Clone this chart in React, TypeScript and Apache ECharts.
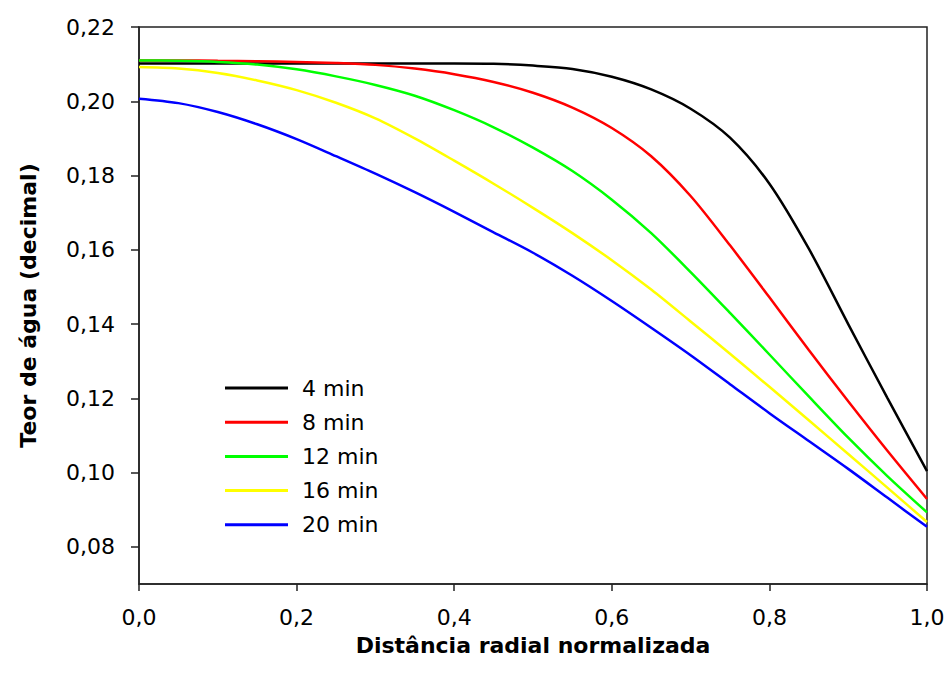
import React, { useEffect, useRef } from "react";
import * as echarts from "echarts";

const xValues = [0, 0.05, 0.1, 0.15, 0.2, 0.25, 0.3, 0.35, 0.4, 0.45, 0.5, 0.55, 0.6, 0.65, 0.7, 0.75, 0.8, 0.85, 0.9, 0.95, 1.0];

const seriesNames = ["4 min", "8 min", "12 min", "16 min", "20 min"];
const seriesColors = ["#000000", "#ff0000", "#00ff00", "#ffff00", "#0000ff"];

const min4 = [0.2102, 0.2102, 0.2102, 0.2102, 0.2102, 0.2102, 0.2102, 0.2102, 0.2102, 0.2101, 0.2096, 0.2087, 0.2066, 0.2032, 0.1980, 0.1902, 0.1778, 0.1603, 0.1400, 0.1200, 0.1004];
const min8 = [0.2110, 0.2110, 0.2109, 0.2108, 0.2106, 0.2103, 0.2098, 0.2088, 0.2073, 0.2052, 0.2023, 0.1983, 0.1928, 0.1852, 0.1745, 0.1612, 0.1472, 0.1330, 0.1192, 0.1058, 0.0929];
const min12 = [0.2110, 0.2109, 0.2106, 0.2099, 0.2086, 0.2067, 0.2044, 0.2015, 0.1976, 0.1930, 0.1875, 0.1812, 0.1735, 0.1645, 0.1540, 0.1430, 0.1318, 0.1205, 0.1094, 0.0990, 0.0893];
const min16 = [0.2092, 0.2088, 0.2076, 0.2056, 0.2030, 0.1996, 0.1954, 0.1900, 0.1840, 0.1778, 0.1713, 0.1645, 0.1572, 0.1493, 0.1407, 0.1320, 0.1231, 0.1141, 0.1050, 0.0959, 0.0867];
const min20 = [0.2007, 0.1995, 0.1971, 0.1938, 0.1898, 0.1852, 0.1805, 0.1755, 0.1702, 0.1647, 0.1592, 0.1530, 0.1462, 0.1390, 0.1316, 0.1238, 0.1160, 0.1085, 0.1010, 0.0932, 0.0854];

const allSeries = [min4, min8, min12, min16, min20];

const yTicks = [0.08, 0.1, 0.12, 0.14, 0.16, 0.18, 0.2, 0.22];
const xTicks = [0, 0.2, 0.4, 0.6, 0.8, 1.0];

const FONT = "DejaVu Sans";

export default function App() {
  const ref = useRef<HTMLDivElement>(null);
  useEffect(() => {
    if (!ref.current) return;
    const chart = echarts.init(ref.current, undefined, { renderer: "svg" });
    const axisColor = "#222";
    chart.setOption({
      animation: false,
      backgroundColor: "#ffffff",
      grid: {
        left: 139,
        top: 27,
        right: 23,
        bottom: 103,
        show: true,
        borderColor: axisColor,
        borderWidth: 1.5,
        backgroundColor: "transparent",
      },
      legend: {
        orient: "vertical",
        left: 225,
        top: 377,
        padding: 0,
        icon: "rect",
        itemWidth: 63,
        itemHeight: 3,
        itemGap: 12.2,
        data: seriesNames,
        textStyle: { fontFamily: FONT, fontSize: 22, color: "#000", padding: [0, 0, 0, 9] },
      },
      xAxis: {
        type: "value",
        min: 0,
        max: 1,
        interval: 0.2,
        name: "Distância radial normalizada",
        nameLocation: "middle",
        nameGap: 50,
        nameTextStyle: { fontFamily: FONT, fontSize: 22, fontWeight: "bold", color: "#000" },
        axisLine: { show: true, lineStyle: { color: axisColor, width: 1.5 } },
        axisTick: { show: true, length: 7, lineStyle: { color: axisColor, width: 1.5 }, customValues: xTicks },
        axisLabel: {
          fontFamily: FONT,
          fontSize: 22,
          color: "#000",
          margin: 22,
          customValues: xTicks,
          formatter: (v: number) => v.toFixed(1).replace(".", ","),
        },
        splitLine: { show: false },
      },
      yAxis: {
        type: "value",
        min: 0.07,
        max: 0.22,
        name: "Teor de água (decimal)",
        nameLocation: "middle",
        nameGap: 100,
        nameTextStyle: { fontFamily: FONT, fontSize: 22, fontWeight: "bold", color: "#000" },
        axisLine: { show: true, lineStyle: { color: axisColor, width: 1.5 } },
        axisTick: { show: true, length: 8, lineStyle: { color: axisColor, width: 1.5 }, customValues: yTicks },
        axisLabel: {
          fontFamily: FONT,
          fontSize: 22,
          color: "#000",
          margin: 24,
          customValues: yTicks,
          formatter: (v: number) => v.toFixed(2).replace(".", ","),
        },
        splitLine: { show: false },
      },
      series: allSeries.map((vals, i) => ({
        name: seriesNames[i],
        type: "line",
        data: vals.map((y, j) => [xValues[j], y]),
        showSymbol: false,
        symbol: "none",
        smooth: 0.3,
        lineStyle: { color: seriesColors[i], width: 2.5 },
        itemStyle: { color: seriesColors[i] },
      })),
    });
    return () => chart.dispose();
  }, []);
  return (
    <div
      ref={ref}
      style={{ position: "absolute", left: 0, top: 0, width: 950, height: 687, background: "#fff" }}
    />
  );
}
